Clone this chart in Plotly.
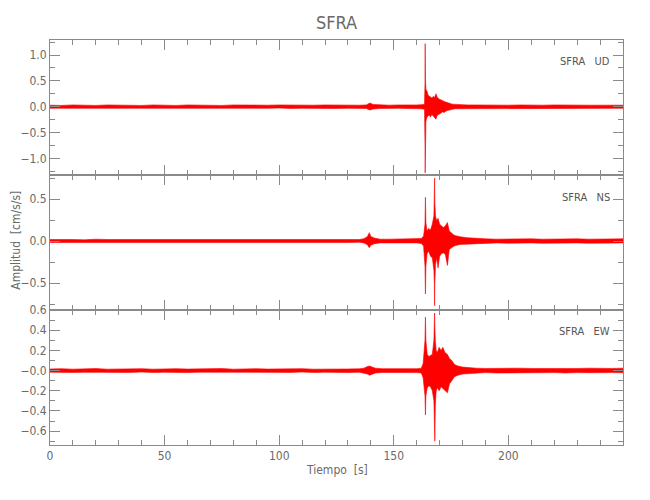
import plotly.graph_objects as go

# ---------------- data (envelopes) ----------------
t_ud = [0, 5, 10, 15, 20, 25, 30, 35, 40, 45, 50, 55, 60, 65, 70, 75, 80, 85, 90, 95, 100, 105, 110, 115, 120, 125, 130, 135,
        138, 139.5, 141, 144, 148, 152, 156, 160, 162,
        163.4, 163.6, 163.7, 163.8, 164.0, 164.5, 165.0, 165.5, 166.0, 166.6, 167.2, 167.8, 168.4, 169.0, 169.7, 170.4, 171.2, 172.0, 173.0, 174.0, 175.5,
        177, 179, 182, 186,
        190, 195, 200, 205, 210, 215, 220, 225, 230, 235, 240, 245, 250]
up_ud = [0.03, 0.025, 0.035, 0.03, 0.025, 0.035, 0.03, 0.03, 0.025, 0.035, 0.03, 0.025, 0.035, 0.03, 0.03, 0.025, 0.035, 0.03, 0.025, 0.03, 0.035, 0.03, 0.025, 0.03, 0.035, 0.03, 0.025, 0.03,
         0.035, 0.07, 0.045, 0.035, 0.03, 0.035, 0.03, 0.035, 0.04,
         0.05, 0.45, 1.22, 0.55, 0.34, 0.3, 0.22, 0.2, 0.18, 0.17, 0.2, 0.18, 0.25, 0.18, 0.15, 0.14, 0.12, 0.1, 0.09, 0.07, 0.05,
         0.045, 0.04, 0.035, 0.035,
         0.03, 0.035, 0.03, 0.035, 0.03, 0.03, 0.035, 0.03, 0.035, 0.03, 0.03, 0.035, 0.03]
lo_ud = [-0.03, -0.035, -0.025, -0.03, -0.035, -0.03, -0.025, -0.035, -0.03, -0.025, -0.035, -0.03, -0.03, -0.025, -0.035, -0.03, -0.025, -0.035, -0.03, -0.03, -0.025, -0.035, -0.03, -0.025, -0.03, -0.035, -0.03, -0.03,
         -0.035, -0.065, -0.045, -0.035, -0.03, -0.03, -0.035, -0.035, -0.04,
         -0.05, -0.7, -1.28, -0.75, -0.28, -0.2, -0.18, -0.16, -0.2, -0.15, -0.18, -0.2, -0.24, -0.16, -0.14, -0.13, -0.1, -0.11, -0.08, -0.06, -0.05,
         -0.04, -0.035, -0.035, -0.03,
         -0.035, -0.03, -0.03, -0.035, -0.03, -0.035, -0.03, -0.03, -0.035, -0.03, -0.035, -0.03, -0.03]

t_ns = [0, 5, 10, 15, 20, 25, 30, 35, 40, 45, 50, 55, 60, 65, 70, 75, 80, 85, 90, 95, 100, 105, 110, 115, 120, 125, 130, 135,
        137, 138.5, 139.3, 140, 141.5, 144, 148, 152, 156, 160, 162,
        163.0, 163.6, 163.8, 164.0, 164.5, 165.2, 166.0, 166.8, 167.5, 167.7, 167.8, 167.9, 168.2, 168.7, 169.3, 170.0, 170.8, 171.6, 172.5, 173.4, 174.2, 175.2, 176.3, 177.5, 179,
        182, 186,
        190, 195, 200, 205, 210, 215, 220, 225, 230, 235, 240, 245, 250]
up_ns = [0.018, 0.022, 0.018, 0.014, 0.022, 0.018, 0.018, 0.022, 0.014, 0.018, 0.022, 0.018, 0.018, 0.022, 0.014, 0.018, 0.022, 0.018, 0.018, 0.014, 0.022, 0.018, 0.018, 0.022, 0.018, 0.014, 0.022, 0.018,
         0.028, 0.055, 0.1, 0.055, 0.035, 0.022, 0.022, 0.026, 0.022, 0.026, 0.03,
         0.06, 0.2, 0.52, 0.22, 0.12, 0.15, 0.13, 0.2, 0.3, 0.45, 0.75, 0.45, 0.3, 0.24, 0.27, 0.2, 0.18, 0.16, 0.18, 0.22, 0.12, 0.1, 0.07, 0.06, 0.05,
         0.04, 0.03,
         0.026, 0.022, 0.026, 0.022, 0.026, 0.022, 0.026, 0.022, 0.026, 0.022, 0.026, 0.022, 0.026]
lo_ns = [-0.018, -0.014, -0.022, -0.018, -0.018, -0.022, -0.014, -0.018, -0.022, -0.018, -0.014, -0.022, -0.018, -0.018, -0.022, -0.014, -0.018, -0.022, -0.018, -0.018, -0.014, -0.022, -0.018, -0.018, -0.022, -0.018, -0.018, -0.014,
         -0.024, -0.045, -0.08, -0.05, -0.032, -0.022, -0.022, -0.022, -0.026, -0.022, -0.03,
         -0.06, -0.3, -0.63, -0.3, -0.15, -0.12, -0.18, -0.2, -0.35, -0.5, -0.77, -0.5, -0.28, -0.2, -0.32, -0.18, -0.15, -0.14, -0.16, -0.29, -0.1, -0.08, -0.06, -0.05, -0.04,
         -0.035, -0.03,
         -0.026, -0.022, -0.026, -0.026, -0.022, -0.026, -0.022, -0.026, -0.022, -0.026, -0.022, -0.026, -0.022]

t_ew = [0, 5, 10, 15, 20, 25, 30, 35, 40, 45, 50, 55, 60, 65, 70, 75, 80, 85, 90, 95, 100, 105, 110, 115, 120, 125, 130, 135,
        137, 138.5, 139.5, 140.5, 142, 145, 150, 155, 160, 162,
        162.8, 163.6, 163.8, 164.0, 164.6, 165.3, 166.0, 166.8, 167.5, 167.8, 167.9, 168.1, 168.5, 169.0, 169.8, 170.6, 171.4, 172.3, 173.4, 174.3, 175.3, 176.5, 178, 180,
        183, 186,
        190, 195, 200, 205, 210, 215, 220, 225, 230, 235, 240, 245, 250]
up_ew = [0.016, 0.019, 0.014, 0.016, 0.02, 0.014, 0.018, 0.016, 0.019, 0.014, 0.017, 0.019, 0.015, 0.018, 0.016, 0.02, 0.014, 0.017, 0.019, 0.015, 0.018, 0.016, 0.019, 0.014, 0.017, 0.019, 0.016, 0.018,
         0.024, 0.04, 0.045, 0.035, 0.024, 0.019, 0.018, 0.02, 0.019, 0.024,
         0.07, 0.3, 0.53, 0.3, 0.16, 0.14, 0.15, 0.16, 0.3, 0.57, 0.45, 0.3, 0.2, 0.18, 0.23, 0.2, 0.23, 0.18, 0.16, 0.12, 0.1, 0.06, 0.045, 0.035,
         0.028, 0.024,
         0.021, 0.024, 0.02, 0.024, 0.021, 0.02, 0.024, 0.02, 0.021, 0.024, 0.02, 0.021, 0.024]
lo_ew = [-0.016, -0.014, -0.019, -0.017, -0.014, -0.02, -0.016, -0.018, -0.014, -0.019, -0.017, -0.015, -0.02, -0.016, -0.018, -0.014, -0.019, -0.016, -0.015, -0.02, -0.017, -0.018, -0.014, -0.019, -0.016, -0.017, -0.02, -0.016,
         -0.024, -0.035, -0.045, -0.035, -0.024, -0.019, -0.018, -0.019, -0.02, -0.024,
         -0.07, -0.25, -0.44, -0.25, -0.17, -0.15, -0.16, -0.2, -0.3, -0.5, -0.7, -0.35, -0.2, -0.17, -0.2, -0.16, -0.18, -0.2, -0.22, -0.13, -0.1, -0.06, -0.045, -0.035,
         -0.028, -0.024,
         -0.02, -0.024, -0.021, -0.02, -0.024, -0.021, -0.02, -0.024, -0.02, -0.021, -0.024, -0.02, -0.021]

station = "SFRA"
components = ["UD", "NS", "EW"]
x_ticks = [0, 50, 100, 150, 200]

# ---------------- figure ----------------
GRAY = "#8a8a8a"
TXT = "#6a6a6a"
FONT = "Liberation Sans Narrow, DejaVu Sans Condensed, Roboto Condensed, Arial Narrow, sans-serif"

fig = go.Figure()
series = [(t_ud, up_ud, lo_ud, "y"), (t_ns, up_ns, lo_ns, "y2"), (t_ew, up_ew, lo_ew, "y3")]
xrefs = ["x", "x2", "x3"]
for (t, up, lo, yref), xr in zip(series, xrefs):
    fig.add_trace(go.Scatter(
        x=list(t) + list(t[::-1]), y=list(up) + list(lo[::-1]),
        mode="lines", fill="toself", fillcolor="#ff0000",
        line=dict(color="#ff0000", width=0.6), xaxis=xr, yaxis=yref,
        showlegend=False, hoverinfo="skip"))

common_ax = dict(showline=True, linecolor=GRAY, linewidth=1, mirror="ticks", ticks="inside",
                 ticklen=10, tickcolor=GRAY, showgrid=False, zeroline=False,
                 tickfont=dict(family=FONT, size=12, color=TXT))

xminor = dict(ticks="inside", ticklen=5, dtick=10, tickcolor=GRAY, showgrid=False)
for i, name in enumerate(["xaxis", "xaxis2", "xaxis3"]):
    anchor = ["y", "y2", "y3"][i]
    ax = dict(common_ax, range=[0, 250], tickvals=x_ticks, minor=xminor, anchor=anchor,
              showticklabels=(i == 2))
    if i > 0:
        ax["matches"] = "x"
    fig.layout[name] = ax

fig.layout["yaxis"] = dict(common_ax, domain=[2/3, 1], anchor="x", range=[-1.32, 1.29],
                           tickvals=[-1.0, -0.5, 0.0, 0.5, 1.0],
                           ticktext=["\u22121.0", "\u22120.5", "0.0", "0.5", "1.0"],
                           minor=dict(ticks="inside", ticklen=5, dtick=0.25, tick0=0, tickcolor=GRAY, showgrid=False))
fig.layout["yaxis2"] = dict(common_ax, domain=[1/3, 2/3], anchor="x2", range=[-0.821, 0.786],
                            tickvals=[-0.5, 0.0, 0.5],
                            ticktext=["\u22120.5", "0.0", "0.5"],
                            minor=dict(ticks="inside", ticklen=5, dtick=0.25, tick0=0, tickcolor=GRAY, showgrid=False))
fig.layout["yaxis3"] = dict(common_ax, domain=[0, 1/3], anchor="x3", range=[-0.737, 0.6],
                            tickvals=[-0.6, -0.4, -0.2, 0.0, 0.2, 0.4, 0.6],
                            ticktext=["\u22120.6", "\u22120.4", "\u22120.2", "\u22120.0", "0.2", "0.4", "0.6"],
                            minor=dict(ticks="inside", ticklen=5, dtick=0.1, tick0=0, tickcolor=GRAY, showgrid=False))

annots = []
for comp, yp in zip(components, [0.946, 0.612, 0.281]):
    annots.append(dict(text=station + "\u00a0\u00a0\u00a0" + comp, xref="paper", yref="paper",
                       x=0.981, y=yp, xanchor="right", yanchor="middle", showarrow=False,
                       font=dict(family=FONT, size=11, color="#555555")))
annots.append(dict(text="Amplitud\u00a0\u00a0[cm/s/s]", xref="paper", yref="paper", x=-0.059, y=0.505,
                   textangle=-90, xanchor="center", yanchor="middle", showarrow=False,
                   font=dict(family=FONT, size=12, color=TXT)))
annots.append(dict(text="Tiempo\u00a0\u00a0[s]", xref="paper", yref="paper", x=0.50, y=-0.04,
                   xanchor="center", yanchor="top", showarrow=False,
                   font=dict(family=FONT, size=12, color=TXT)))
annots.append(dict(text=station, xref="paper", yref="paper", x=0.5, y=1.0, yshift=18,
                   xanchor="center", yanchor="middle", showarrow=False,
                   font=dict(family=FONT, size=18, color=TXT)))

# page body has an 8 px margin, so the figure is sized/offset to fit the 650x500 window
fig.update_layout(width=634, height=484, autosize=False,
                  margin=dict(l=40, r=19, t=32, b=47),
                  paper_bgcolor="white", plot_bgcolor="white",
                  annotations=annots, showlegend=False)

fig.write_html("out.html")
